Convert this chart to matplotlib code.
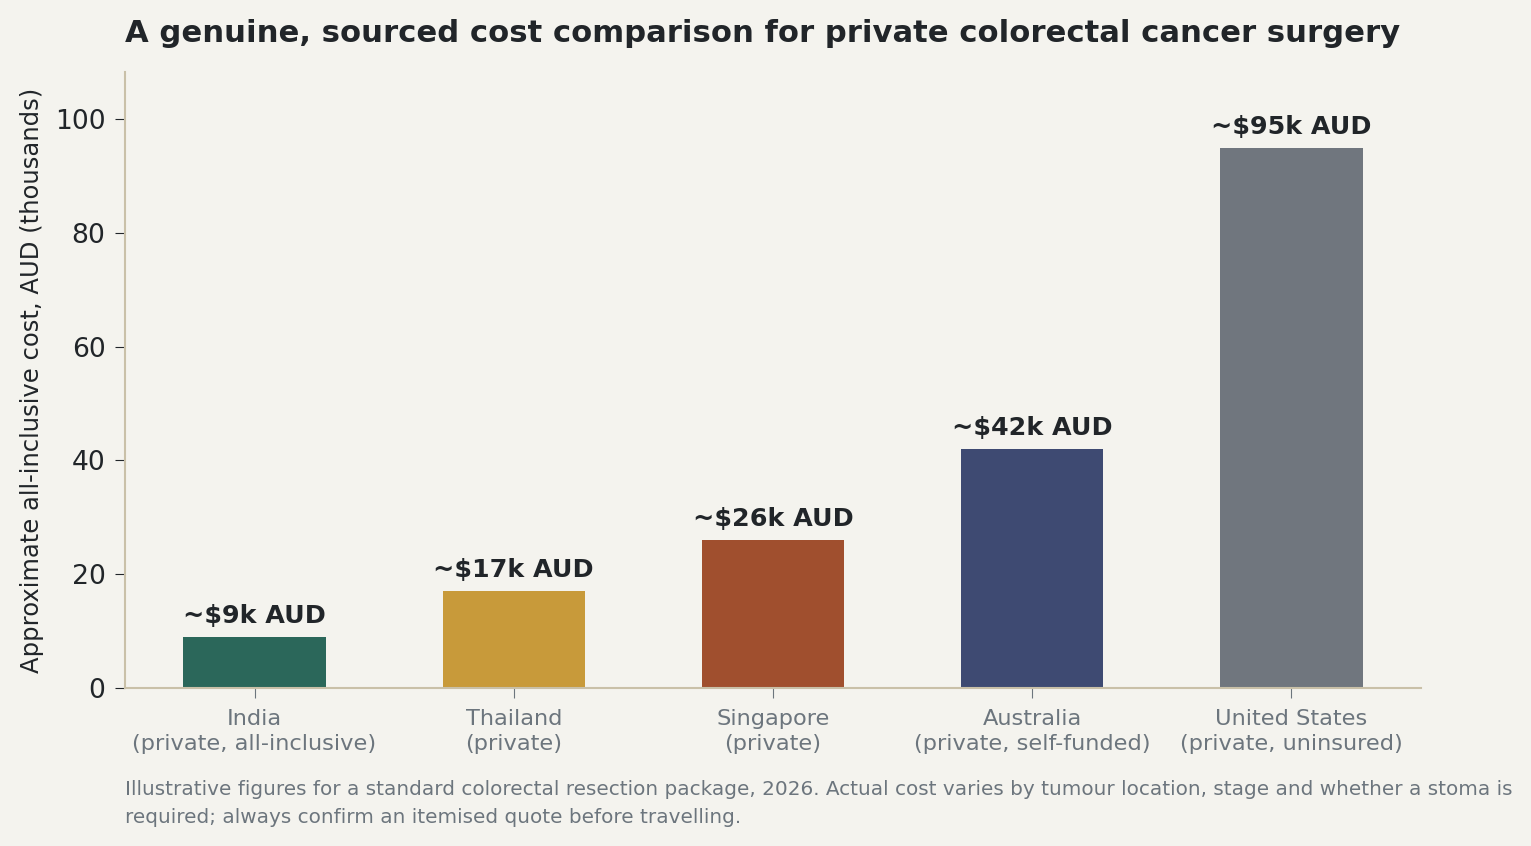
import matplotlib
matplotlib.use("Agg")
import matplotlib.pyplot as plt

categories = ["India\n(private, all-inclusive)", "Thailand\n(private)", "Singapore\n(private)",
              "Australia\n(private, self-funded)", "United States\n(private, uninsured)"]
costs = [9, 17, 26, 42, 95]
labels = ["~$9k AUD", "~$17k AUD", "~$26k AUD", "~$42k AUD", "~$95k AUD"]
colors = ["#2b675a", "#c89a3a", "#a04f2e", "#3e4a72", "#70767e"]

bg = "#f4f3ee"
dark = "#212529"
grey = "#6c757d"
spine = "#c9c0a8"

fig = plt.figure(figsize=(15.31, 8.46), dpi=100, facecolor=bg)
ax = fig.add_axes([125/1531, 1 - 688/846, (1421-125)/1531, (688-72)/846])
ax.set_facecolor(bg)

x = range(len(costs))
ax.bar(x, costs, width=0.55, color=colors, zorder=2)
for i, (v, t) in enumerate(zip(costs, labels)):
    ax.text(i, v + 1.6, t, ha="center", va="bottom", fontsize=18.3, fontweight="bold", color=dark)

ax.set_xlim(-0.5, 4.5)
ax.set_ylim(0, 108.3)
ax.set_xticks(list(x))
ax.set_xticklabels(categories, fontsize=16.2, color=grey, linespacing=1.35)
ax.tick_params(axis="x", colors=grey, length=7, pad=8)
ax.tick_params(axis="y", labelsize=19.2, colors=dark, length=7, pad=7)
ax.set_yticks([0, 20, 40, 60, 80, 100])
ax.set_ylabel("Approximate all-inclusive cost, AUD (thousands)", fontsize=17.5, color=dark, labelpad=8)

for s in ["top", "right"]:
    ax.spines[s].set_visible(False)
for s in ["left", "bottom"]:
    ax.spines[s].set_color(spine)
    ax.spines[s].set_linewidth(1.5)

fig.text(125/1531, 1 - 33/846, "A genuine, sourced cost comparison for private colorectal cancer surgery",
         fontsize=22.1, fontweight="bold", color=dark, va="center", ha="left")
fig.text(125/1531, 1 - 803.5/846,
         "Illustrative figures for a standard colorectal resection package, 2026. Actual cost varies by tumour location, stage and whether a stoma is\nrequired; always confirm an itemised quote before travelling.",
         fontsize=14.4, color=grey, va="center", ha="left", linespacing=1.6)

fig.savefig("out.png", dpi=100, facecolor=bg)
